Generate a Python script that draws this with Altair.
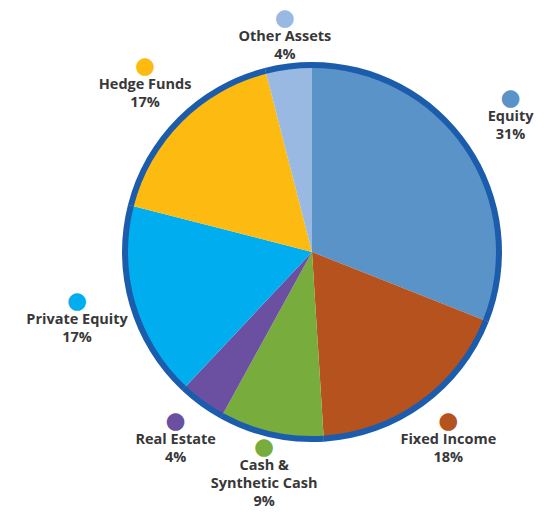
import altair as alt
import pandas as pd

names = ["Equity", "Fixed Income", "Cash &\nSynthetic Cash", "Real Estate",
         "Private Equity", "Hedge Funds", "Other Assets"]
values = [31, 18, 9, 4, 17, 17, 4]
colors = ["#5a93c8", "#b5521e", "#78ac3c", "#6b4fa0", "#00aeef", "#fdbb12", "#99b9e3"]

df = pd.DataFrame({
    "name": names,
    "value": values,
    "order": list(range(len(names))),
    "label": [f"{n}\n{v}%" for n, v in zip(names, values)],
    "dot": ["●"] * len(names),
})

order = alt.Order("order:Q", sort="ascending")
color = alt.Color("name:N", scale=alt.Scale(domain=names, range=colors), legend=None)

base = alt.Chart(df).encode(theta=alt.Theta("value:Q", stack=True), order=order)

pie = base.mark_arc(outerRadius=188).encode(color=color)
ring = base.mark_arc(innerRadius=184, outerRadius=190, color="#1c5cad")

# labels at each slice's mid angle; distance grows where labels sit beside the pie
lab = alt.Chart(df).transform_joinaggregate(
    total="sum(value)"
).transform_window(
    cum="sum(value)", sort=[alt.SortField("order", order="ascending")],
    frame=[None, 0]
).transform_calculate(
    mid="(datum.cum - datum.value / 2) / datum.total * 2 * PI",
    r="212 + 34 * abs(sin(datum.mid))",
).encode(
    theta=alt.Theta("mid:Q", scale=None, stack=None),
    radius=alt.Radius("r:Q", scale=None, stack=None),
)

dots = lab.mark_text(dy=-19, fontSize=23, font="DejaVu Sans").encode(
    text="dot:N", color=color)
labels = lab.mark_text(dy=-7, baseline="top", align="center",
                       lineBreak="\n", lineHeight=18, fontSize=14.5,
                       fontWeight="bold", font="Open Sans",
                       color="#383838").encode(text="label:N")

chart = alt.layer(pie, ring, dots, labels).resolve_scale(
    theta="independent", radius="independent"
).properties(
    width=380, height=380,
    padding={"left": 122, "top": 62, "right": 54, "bottom": 74},
    autosize=alt.AutoSizeParams(type="none"),
).configure_view(stroke=None)

chart.save("out.html", embed_options={"renderer": "svg", "actions": False})
